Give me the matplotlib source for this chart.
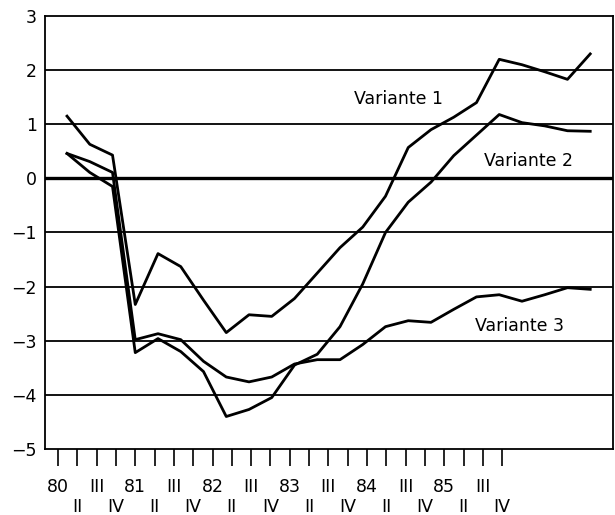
import numpy as np
import matplotlib
matplotlib.use('Agg')
import matplotlib.pyplot as plt

# quarterly values, 1980 I .. 1985 IV
variante_1 = [1.15, 0.63, 0.43, -2.33, -1.39, -1.63, -2.25, -2.85, -2.52, -2.55, -2.22, -1.75,
              -1.28, -0.90, -0.33, 0.57, 0.90, 1.13, 1.40, 2.20, 2.10, 1.97, 1.83, 2.30]
variante_2 = [0.46, 0.11, -0.15, -3.22, -2.96, -3.20, -3.57, -4.40, -4.27, -4.05, -3.45, -3.25,
              -2.74, -1.95, -1.00, -0.44, -0.07, 0.42, 0.80, 1.18, 1.03, 0.97, 0.88, 0.87]
variante_3 = [0.46, 0.31, 0.11, -2.98, -2.87, -2.98, -3.38, -3.67, -3.76, -3.67, -3.43, -3.35,
              -3.35, -3.07, -2.74, -2.63, -2.66, -2.42, -2.19, -2.15, -2.27, -2.15, -2.02, -2.05]
years = ['80', '81', '82', '83', '84', '85']
quarters = ['I', 'II', 'III', 'IV']

fig = plt.figure(figsize=(6.15, 5.15), dpi=100)
ax = fig.add_axes([0.0732, 0.1282, 0.9235, 0.8407])

x = np.arange(len(variante_1))
for y in range(-4, 3):
    ax.axhline(y, color='black', lw=2.4 if y == 0 else 1.3, zorder=1)

for s in [variante_1, variante_2, variante_3]:
    ax.plot(x, s, color='black', lw=2.0, zorder=2)

ax.set_xlim(-0.967, 24.0)
ax.set_ylim(-5, 3)
ax.set_yticks(range(-5, 4))
ax.tick_params(axis='y', length=0, pad=6, labelsize=12.5)

# tick marks are spaced a bit tighter than the data
ticks = -0.396 + 0.849 * np.arange(24)
labels = []
for k in range(24):
    q = k % 4
    if q == 0:
        labels.append(years[k // 4])
    elif q == 2:
        labels.append('III')
    else:
        labels.append('\n' + quarters[q])
ax.set_xticks(ticks)
ax.set_xticklabels(labels, fontsize=12.5, linespacing=1.15)
ax.tick_params(axis='x', length=12, width=1.2, pad=9, direction='out')

for sp in ax.spines.values():
    sp.set_linewidth(1.3)

ax.text(14.55, 1.46, 'Variante 1', fontsize=12.5, ha='center', va='center')
ax.text(20.27, 0.33, 'Variante 2', fontsize=12.5, ha='center', va='center')
ax.text(19.9, -2.72, 'Variante 3', fontsize=12.5, ha='center', va='center')

fig.savefig('out.png', dpi=100)
